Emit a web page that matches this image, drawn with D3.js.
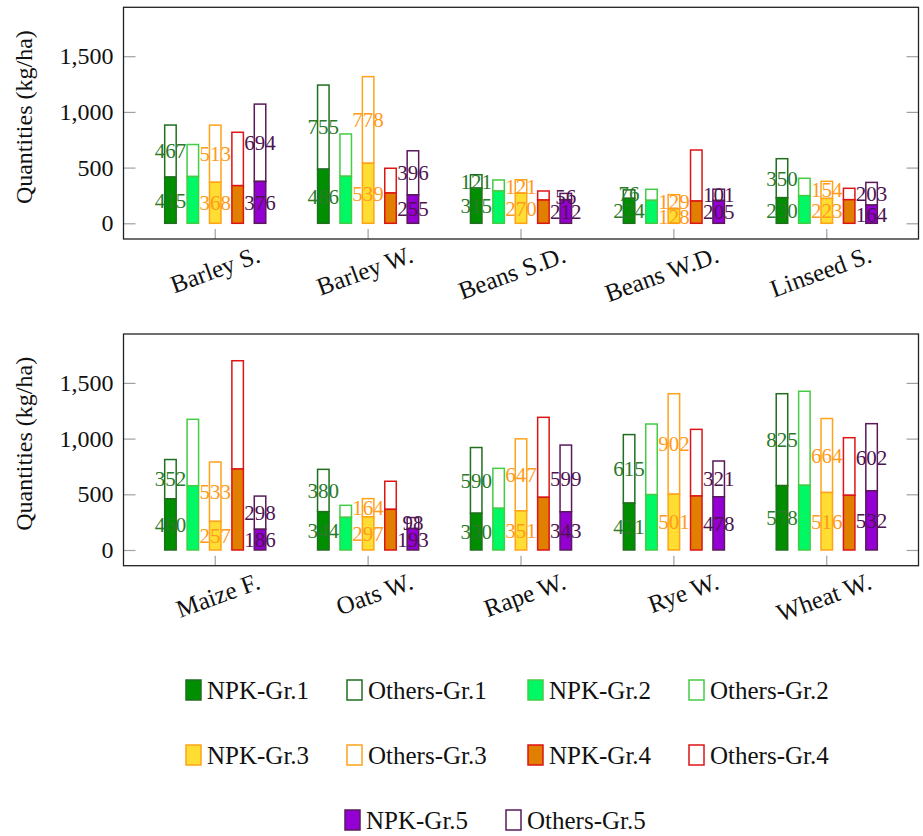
<!DOCTYPE html>
<html>
<head>
<meta charset="utf-8">
<script src="https://cdn.jsdelivr.net/npm/d3@7"></script>
<style>
  body { margin: 0; background: #fff; }
  svg text { font-family: "Liberation Serif", "Times New Roman", Times, "DejaVu Serif", "Noto Serif", FreeSerif, serif; }
</style>
</head>
<body>
<script>

// Categories, top row of plots first, then bottom row
var categories = ["Barley S.", "Barley W.", "Beans S.D.", "Beans W.D.", "Linseed S.",
                  "Maize F.", "Oats W.", "Rape W.", "Rye W.", "Wheat W."];
var groups = ["Gr.1", "Gr.2", "Gr.3", "Gr.4", "Gr.5"];

// NPK (filled part) and Others (outlined part on top), per group
var npkGr1 = [415, 486, 315, 224, 230, 460, 344, 330, 421, 578];
var othGr1 = [467, 755, 121, 76, 350, 352, 380, 590, 615, 825];
var npkGr2 = [420, 422, 290, 206, 248, 577, 293, 374, 497, 581];
var othGr2 = [287, 380, 99, 99, 156, 596, 108, 359, 634, 844];
var npkGr3 = [368, 539, 270, 128, 223, 257, 297, 351, 501, 516];
var othGr3 = [513, 778, 121, 129, 154, 533, 164, 647, 902, 664];
var npkGr4 = [338, 272, 209, 200, 212, 727, 365, 473, 485, 491];
var othGr4 = [479, 222, 81, 458, 102, 972, 252, 718, 598, 517];
var npkGr5 = [376, 255, 212, 205, 164, 186, 193, 343, 478, 532];
var othGr5 = [694, 396, 56, 101, 203, 298, 98, 599, 321, 602];

var yTicks = [0, 500, 1000, 1500];

var npk = [npkGr1, npkGr2, npkGr3, npkGr4, npkGr5];
var others = [othGr1, othGr2, othGr3, othGr4, othGr5];

// styles for each group
var fills   = ["#008f00", "#00f865", "#ffdd33", "#e07f00", "#9400d3"];
var strokes = ["#1f6f1f", "#44cc44", "#ffa31a", "#dd1515", "#5a1a5a"];
var labelColors = ["#2a7a2a", null, "#ff9a1a", null, "#4d1450"];

var serif = "'Liberation Serif', 'Times New Roman', Times, 'DejaVu Serif', 'Noto Serif', FreeSerif, serif";

var w = 923, h = 836;
var svg = d3.select("body").append("svg")
            .attr("width", w)
            .attr("height", h)
            .attr("font-family", serif);

var left = 123.5, right = 918.5;
var panels = [
  {cats: categories.slice(0, 5), start: 0, top: 7.3, bottom: 239},
  {cats: categories.slice(5), start: 5, top: 334, bottom: 565.7}
];

var barW = 11.5;

panels.forEach(function(p){

  var x = d3.scaleBand()
            .domain(p.cats)
            .range([left, right])
            .paddingInner(0)
            .paddingOuter(0.1);

  var xg = d3.scaleBand()
             .domain(groups)
             .range([-56, 56]);

  var y = d3.scaleLinear()
            .domain([-141, 1939])
            .range([p.bottom, p.top]);

  var g = svg.append("g");

  // y axis left
  var yAxis = g.append("g")
               .attr("transform", `translate(${left},0)`)
               .call(d3.axisLeft(y).tickValues(yTicks).tickFormat(d3.format(",")).tickSizeInner(-12).tickSizeOuter(0).tickPadding(10));
  yAxis.attr("font-family", serif);
  yAxis.select(".domain").remove();
  yAxis.selectAll("line").attr("stroke", "#a0a0a0").attr("stroke-width", 1.2);
  yAxis.selectAll("text")
       .attr("font-size", 24)
       .attr("fill", "#111");

  // y axis right, ticks only
  var yAxisR = g.append("g")
                .attr("transform", `translate(${right},0)`)
                .call(d3.axisRight(y).tickValues(yTicks).tickFormat("").tickSizeInner(-12).tickSizeOuter(0));
  yAxisR.select(".domain").remove();
  yAxisR.selectAll("line").attr("stroke", "#a0a0a0").attr("stroke-width", 1.2);

  // x axis ticks
  var xAxis = g.append("g")
               .attr("transform", `translate(0,${p.bottom})`)
               .call(d3.axisBottom(x).tickFormat("").tickSizeInner(-10).tickSizeOuter(0));
  xAxis.select(".domain").remove();
  xAxis.selectAll("line").attr("stroke", "#a0a0a0").attr("stroke-width", 1.2);

  // category labels, rotated
  g.selectAll(".cat")
   .data(p.cats)
   .enter()
   .append("text")
   .attr("class", "cat")
   .attr("transform", d => `translate(${x(d) + x.bandwidth() / 2 + 40},${p.bottom + 5}) rotate(-20)`)
   .attr("text-anchor", "end")
   .attr("dy", "0.75em")
   .attr("font-size", 25)
   .attr("fill", "#111")
   .text(d => d);

  // bars
  groups.forEach(function(gr, gi){
    var rows = p.cats.map(function(c, ci){
      return {cat: c, npk: npk[gi][p.start + ci], oth: others[gi][p.start + ci]};
    });
    var bx = d => x(d.cat) + x.bandwidth() / 2 + xg(gr) + xg.bandwidth() / 2 - barW / 2;

    g.selectAll(".oth" + gi)
     .data(rows)
     .enter()
     .append("rect")
     .attr("x", bx)
     .attr("width", barW)
     .attr("y", d => y(d.npk + d.oth))
     .attr("height", d => y(d.npk) - y(d.npk + d.oth))
     .attr("fill", "#fff")
     .attr("stroke", strokes[gi])
     .attr("stroke-width", 1.5);

    g.selectAll(".npk" + gi)
     .data(rows)
     .enter()
     .append("rect")
     .attr("x", bx)
     .attr("width", barW)
     .attr("y", d => y(d.npk))
     .attr("height", d => y(0) - y(d.npk))
     .attr("fill", fills[gi])
     .attr("stroke", strokes[gi])
     .attr("stroke-width", 1.5);

    // value labels for groups 1, 3 and 5
    if (labelColors[gi]) {
      rows.forEach(function(d){
        var cx = bx(d) + barW / 2;
        g.append("text")
         .attr("x", cx)
         .attr("y", y(d.npk / 2))
         .attr("dy", "0.35em")
         .attr("text-anchor", "middle")
         .attr("font-size", 21)
         .attr("fill", labelColors[gi])
         .text(d.npk);
        g.append("text")
         .attr("x", cx)
         .attr("y", y(d.npk + d.oth / 2))
         .attr("dy", "0.35em")
         .attr("text-anchor", "middle")
         .attr("font-size", 21)
         .attr("fill", labelColors[gi])
         .text(d.oth);
      });
    }
  });

  // frame
  g.append("rect")
   .attr("x", left)
   .attr("y", p.top)
   .attr("width", right - left)
   .attr("height", p.bottom - p.top)
   .attr("fill", "none")
   .attr("stroke", "#222")
   .attr("stroke-width", 1.3);

  // y axis title
  svg.append("text")
     .attr("transform", `translate(32,${(p.top + p.bottom) / 2 - 6}) rotate(-90)`)
     .attr("text-anchor", "middle")
     .attr("font-size", 24)
     .attr("fill", "#111")
     .text("Quantities (kg/ha)");
});

// Legend
var legendItems = [];
groups.forEach(function(gr, gi){
  legendItems.push({label: "NPK-" + gr, fill: fills[gi], stroke: strokes[gi]});
  legendItems.push({label: "Others-" + gr, fill: "#fff", stroke: strokes[gi]});
});

var colX = [186, 347, 528, 689];
var lastRowX = [345, 506];
var rowY = [690, 755, 820];

var legend = svg.append("g").attr("class", "legend");

legendItems.forEach(function(item, i){
  var row = Math.floor(i / 4);
  var lx = row < 2 ? colX[i % 4] : lastRowX[i % 4];
  var ly = rowY[row];
  legend.append("rect")
        .attr("x", lx)
        .attr("y", ly - 10)
        .attr("width", 15)
        .attr("height", 20)
        .attr("fill", item.fill)
        .attr("stroke", item.stroke)
        .attr("stroke-width", 1.5);
  legend.append("text")
        .attr("x", lx + 21)
        .attr("y", ly)
        .attr("dy", "0.35em")
        .attr("font-size", 25)
        .attr("fill", "#111")
        .text(item.label);
});

</script>
</body>
</html>
